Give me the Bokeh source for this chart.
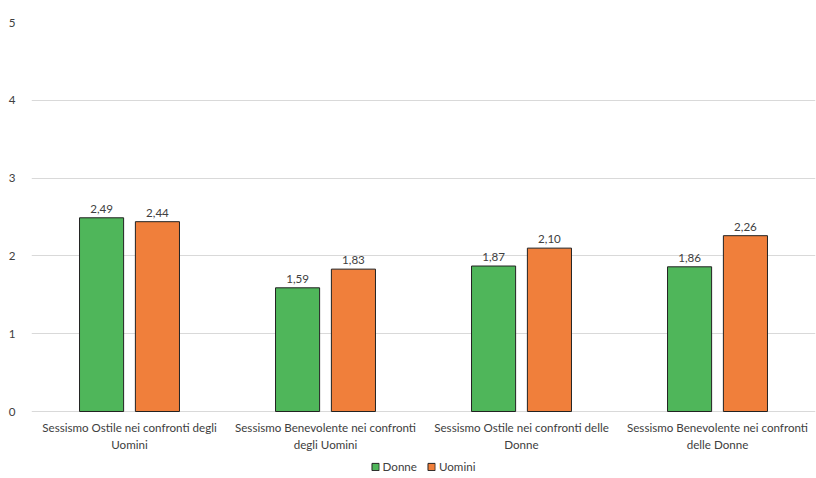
from bokeh.plotting import figure
from bokeh.models import ColumnDataSource, Range1d, FactorRange, Legend, LegendItem, FixedTicker
from bokeh.transform import dodge
from bokeh.core.properties import value
from bokeh.embed import file_html
from bokeh.resources import INLINE

categories = [
    "Sessismo Ostile nei confronti degli\nUomini",
    "Sessismo Benevolente nei confronti\ndegli Uomini",
    "Sessismo Ostile nei confronti delle\nDonne",
    "Sessismo Benevolente nei confronti\ndelle Donne",
]
donne = [2.49, 1.59, 1.87, 1.86]
uomini = [2.44, 1.83, 2.10, 2.26]
series_names = ["Donne", "Uomini"]
y_ticks = [0, 1, 2, 3, 4, 5]

green = "#4FB65A"
orange = "#F07F3B"
font = "Lato"
fs = "11.6px"

src = ColumnDataSource(dict(
    cat=categories,
    base=[y_ticks[0]] * len(categories),
    donne=donne,
    uomini=uomini,
    donne_lbl=[f"{v:.2f}".replace(".", ",") for v in donne],
    uomini_lbl=[f"{v:.2f}".replace(".", ",") for v in uomini],
))

# y range extends below zero to hold category labels and legend inside the frame
p = figure(
    x_range=FactorRange(*categories, range_padding=0),
    y_range=Range1d(-0.861, 5),
    frame_width=784, frame_height=456,
    output_backend="svg", toolbar_location=None,
    min_border_left=31, min_border_right=1, min_border_top=22, min_border_bottom=0,
)
p.outline_line_color = None
p.background_fill_color = "white"
p.border_fill_color = "white"

bw = 0.225
off = 0.1425
r1 = p.vbar(x=dodge("cat", -off, range=p.x_range), top="donne", width=bw, source=src,
            fill_color=green, line_color="#222222", line_width=1)
r2 = p.vbar(x=dodge("cat", off, range=p.x_range), top="uomini", width=bw, source=src,
            fill_color=orange, line_color="#222222", line_width=1)

p.text(x=dodge("cat", -off, range=p.x_range), y="donne", text="donne_lbl", source=src,
       text_align="center", text_baseline="bottom", y_offset=-5,
       text_font=value(font), text_font_size=fs, text_color="#404040")
p.text(x=dodge("cat", off, range=p.x_range), y="uomini", text="uomini_lbl", source=src,
       text_align="center", text_baseline="bottom", y_offset=-5,
       text_font=value(font), text_font_size=fs, text_color="#404040")

# category labels (two lines, centered under each group)
p.text(x="cat", y="base", text="cat", source=src,
       text_align="center", text_baseline="top", y_offset=9, text_line_height=1.35,
       text_font=value(font), text_font_size=fs, text_color="#404040")

p.xaxis.visible = False
p.yaxis.ticker = FixedTicker(ticks=y_ticks)
p.yaxis.axis_line_color = None
p.yaxis.major_tick_line_color = None
p.yaxis.minor_tick_line_color = None
p.yaxis.major_label_text_font = font
p.yaxis.major_label_text_font_size = fs
p.yaxis.major_label_text_color = "#404040"
p.yaxis.major_label_standoff = 10
p.xgrid.grid_line_color = None
p.ygrid.grid_line_color = "#D9D9D9"
p.ygrid.grid_line_width = 1

legend = Legend(items=[LegendItem(label=series_names[0], renderers=[r1]),
                       LegendItem(label=series_names[1], renderers=[r2])],
                orientation="horizontal", location="bottom_center",
                label_text_font=font, label_text_font_size=fs, label_text_color="#404040",
                label_height=12,
                glyph_width=9, glyph_height=9, spacing=10, label_standoff=3,
                padding=0, margin=5, border_line_color=None, background_fill_alpha=0)
p.add_layout(legend, "center")

open("out.html", "w").write(file_html(p, INLINE))
